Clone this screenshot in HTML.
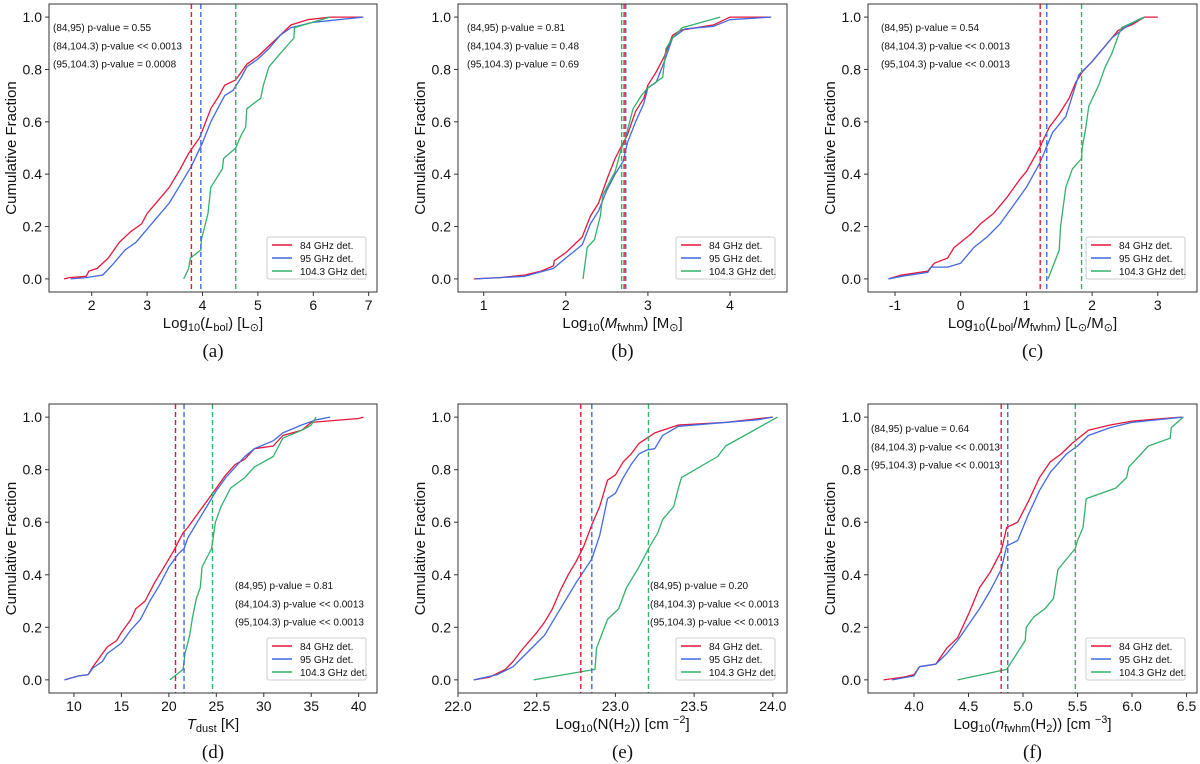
<!DOCTYPE html>
<html><head><meta charset="utf-8"><style>
body{margin:0;background:#fff;}
svg{display:block;font-family:"Liberation Sans","DejaVu Sans",sans-serif;}
</style></head><body>
<svg id="fig" width="1200" height="764" viewBox="0 0 1200 764" xmlns="http://www.w3.org/2000/svg"></svg>
<script>
// ---- data (x values, cumulative fraction) ----
const a84x=[1.5,1.6,1.9,1.95,2.1,2.3,2.5,2.7,2.9,3.0,3.2,3.4,3.6,3.75,3.95,4.15,4.3,4.4,4.6,4.8,5.0,5.2,5.4,5.6,5.9,6.3,6.9];
const a84y=[0,0.005,0.01,0.03,0.04,0.08,0.14,0.18,0.21,0.25,0.30,0.35,0.42,0.48,0.54,0.65,0.70,0.74,0.76,0.82,0.85,0.89,0.93,0.97,0.99,1.0,1.0];
const a95x=[1.62,1.9,2.2,2.4,2.6,2.8,3.0,3.2,3.4,3.6,3.8,4.0,4.15,4.3,4.4,4.55,4.7,4.8,5.0,5.2,5.4,5.6,6.0,6.9];
const a95y=[0,0.005,0.015,0.06,0.11,0.14,0.19,0.24,0.29,0.36,0.43,0.52,0.60,0.66,0.70,0.72,0.77,0.81,0.84,0.88,0.93,0.96,0.98,1.0];
const a104x=[3.66,3.75,3.78,3.97,3.98,4.1,4.15,4.36,4.38,4.6,4.7,4.78,4.8,5.05,5.1,5.2,5.4,5.65,5.66,6.3];
const a104y=[0,0.04,0.08,0.11,0.15,0.25,0.35,0.42,0.46,0.5,0.55,0.58,0.65,0.69,0.74,0.81,0.86,0.92,0.96,1.0];
const aMed=[3.8,3.97,4.6];

const b84x=[0.88,1.2,1.5,1.7,1.85,1.86,2.0,2.1,2.2,2.3,2.4,2.5,2.6,2.65,2.75,2.85,2.95,3.0,3.1,3.2,3.3,3.4,3.8,4.0,4.5];
const b84y=[0,0.005,0.015,0.03,0.05,0.07,0.10,0.13,0.16,0.24,0.29,0.38,0.46,0.49,0.55,0.64,0.69,0.74,0.79,0.85,0.93,0.95,0.97,1.0,1.0];
const b95x=[0.9,1.5,1.85,2.0,2.2,2.3,2.4,2.5,2.6,2.7,2.75,2.85,2.95,3.0,3.1,3.2,3.3,3.45,3.8,4.0,4.5];
const b95y=[0,0.01,0.04,0.08,0.13,0.21,0.26,0.34,0.40,0.45,0.52,0.60,0.67,0.73,0.75,0.83,0.92,0.955,0.965,0.99,1.0];
const b104x=[2.21,2.26,2.35,2.38,2.42,2.45,2.6,2.68,2.72,2.82,2.92,3.0,3.18,3.22,3.3,3.42,3.88];
const b104y=[0,0.12,0.15,0.19,0.24,0.32,0.41,0.50,0.53,0.65,0.70,0.73,0.77,0.88,0.92,0.96,1.0];
const bMed=[2.71,2.73,2.68];

const c84x=[-1.1,-0.9,-0.5,-0.4,-0.2,-0.1,0,0.15,0.3,0.5,0.7,0.9,1.0,1.2,1.35,1.5,1.65,1.75,1.85,2.0,2.2,2.4,2.6,2.8,3.0];
const c84y=[0,0.015,0.03,0.06,0.08,0.12,0.14,0.17,0.21,0.25,0.31,0.38,0.41,0.50,0.58,0.63,0.69,0.75,0.79,0.83,0.89,0.95,0.97,1.0,1.0];
const c95x=[-1.1,-0.9,-0.5,-0.45,-0.2,0,0.2,0.4,0.6,0.8,1.0,1.2,1.3,1.4,1.6,1.7,1.8,2.0,2.2,2.3,2.5,2.7,2.8];
const c95y=[0,0.01,0.025,0.045,0.045,0.06,0.12,0.16,0.21,0.28,0.35,0.44,0.50,0.56,0.62,0.70,0.78,0.83,0.89,0.92,0.96,0.99,1.0];
const c104x=[1.33,1.5,1.52,1.6,1.7,1.84,1.85,1.9,1.95,2.1,2.2,2.3,2.4,2.45,2.8];
const c104y=[0,0.11,0.2,0.35,0.42,0.46,0.5,0.57,0.66,0.74,0.81,0.86,0.93,0.96,1.0];
const cMed=[1.21,1.31,1.84];

const d84x=[9,10.5,11.5,12,13,13.5,14.5,15,16,16.5,17.5,18.5,19.5,20.5,21.5,22,23,24,25,26,27,28,29,31,32,34,35,40,40.5];
const d84y=[0,0.015,0.02,0.05,0.10,0.125,0.15,0.18,0.23,0.27,0.30,0.37,0.43,0.49,0.56,0.58,0.63,0.68,0.73,0.78,0.82,0.84,0.88,0.89,0.93,0.95,0.98,0.995,1.0];
const d95x=[9,10.5,11.5,12,13,13.5,15,16,17,18,19,20,21,21.6,22,23,24,25,26,27,28,29,31,32,34,35.5,37];
const d95y=[0,0.015,0.02,0.045,0.07,0.10,0.14,0.19,0.23,0.30,0.36,0.43,0.48,0.50,0.54,0.60,0.66,0.72,0.77,0.81,0.85,0.88,0.91,0.94,0.97,0.99,1.0];
const d104x=[20.1,21.5,21.7,22.2,22.5,22.9,23.3,23.5,24.5,24.9,25.5,26.5,28,29,31,32,34,35,35.5];
const d104y=[0,0.04,0.1,0.17,0.24,0.31,0.35,0.43,0.50,0.60,0.66,0.73,0.77,0.81,0.85,0.92,0.95,0.97,1.0];
const dMed=[20.7,21.6,24.6];

const e84x=[22.1,22.2,22.3,22.35,22.4,22.5,22.55,22.6,22.65,22.7,22.75,22.8,22.85,22.9,22.95,23.0,23.05,23.1,23.15,23.25,23.4,23.7,24.0];
const e84y=[0,0.01,0.04,0.07,0.11,0.18,0.22,0.27,0.34,0.40,0.45,0.51,0.59,0.66,0.76,0.78,0.83,0.86,0.90,0.94,0.97,0.98,1.0];
const e95x=[22.1,22.25,22.35,22.45,22.55,22.6,22.7,22.75,22.85,22.9,22.95,23.0,23.05,23.1,23.15,23.2,23.25,23.3,23.4,23.9,24.0];
const e95y=[0,0.02,0.05,0.11,0.17,0.22,0.32,0.37,0.46,0.55,0.69,0.71,0.77,0.82,0.86,0.875,0.88,0.93,0.965,0.99,1.0];
const e104x=[22.48,22.87,22.88,22.95,23.02,23.07,23.15,23.22,23.27,23.3,23.37,23.4,23.42,23.65,23.7,24.03];
const e104y=[0,0.04,0.12,0.23,0.27,0.35,0.43,0.51,0.56,0.61,0.66,0.73,0.77,0.85,0.89,1.0];
const eMed=[22.78,22.85,23.21];

const f84x=[3.72,3.9,4.0,4.05,4.2,4.3,4.4,4.5,4.55,4.6,4.7,4.8,4.85,4.95,5.05,5.15,5.25,5.35,5.45,5.6,5.8,6.0,6.45];
const f84y=[0,0.01,0.02,0.05,0.06,0.12,0.16,0.25,0.30,0.35,0.41,0.49,0.58,0.60,0.68,0.77,0.83,0.86,0.90,0.95,0.97,0.985,1.0];
const f95x=[3.8,4.0,4.05,4.2,4.3,4.4,4.5,4.6,4.7,4.8,4.85,4.95,5.05,5.15,5.25,5.4,5.5,5.6,5.8,6.0,6.47];
const f95y=[0,0.015,0.05,0.06,0.10,0.15,0.21,0.27,0.34,0.42,0.51,0.53,0.63,0.72,0.79,0.86,0.89,0.93,0.96,0.98,1.0];
const f104x=[4.4,4.85,5.02,5.03,5.1,5.2,5.28,5.32,5.48,5.5,5.55,5.58,5.85,5.95,5.97,6.15,6.35,6.36,6.47];
const f104y=[0,0.04,0.15,0.2,0.24,0.27,0.31,0.42,0.5,0.53,0.58,0.69,0.73,0.77,0.81,0.89,0.92,0.96,1.0];
const fMed=[4.8,4.86,5.48];

const yTicks=[0,0.2,0.4,0.6,0.8,1.0];
const aTicks=[2,3,4,5,6,7], bTicks=[1,2,3,4], cTicks=[-1,0,1,2,3];
const dTicks=[10,15,20,25,30,35,40], eTicks=[22.0,22.5,23.0,23.5,24.0], fTicks=[4.0,4.5,5.0,5.5,6.0,6.5];
const aNotes=["(84,95) p-value = 0.55","(84,104.3) p-value << 0.0013","(95,104.3) p-value = 0.0008"];
const bNotes=["(84,95) p-value = 0.81","(84,104.3) p-value = 0.48","(95,104.3) p-value = 0.69"];
const cNotes=["(84,95) p-value = 0.54","(84,104.3) p-value << 0.0013","(95,104.3) p-value << 0.0013"];
const dNotes=["(84,95) p-value = 0.81","(84,104.3) p-value << 0.0013","(95,104.3) p-value << 0.0013"];
const eNotes=["(84,95) p-value = 0.20","(84,104.3) p-value << 0.0013","(95,104.3) p-value << 0.0013"];
const fNotes=["(84,95) p-value = 0.64","(84,104.3) p-value << 0.0013","(95,104.3) p-value << 0.0013"];
const seriesNames=["84 GHz det.","95 GHz det.","104.3 GHz det."];

// ---- layout ----
const COLORS=["#e4173b","#4169e1","#33b06a"];
const NS="http://www.w3.org/2000/svg";
const svg=document.getElementById('fig');
function el(tag,attrs,parent){const e=document.createElementNS(NS,tag);for(const k in attrs)e.setAttribute(k,attrs[k]);(parent||svg).appendChild(e);return e;}

const panels=[
 {id:'a',L:49,R:377,T:4,B:292,xmin:1.229,xmax:7.15,ticks:aTicks,fmt:0,s:[[a84x,a84y],[a95x,a95y],[a104x,a104y]],med:aMed,notes:aNotes,nx:53,ny:27,lx:267,ly:237,
  xlabel:[["Log",0],["10",1],["(",0],["L",2],["bol",1],[") [L",0],["⊙",1],["]",0]]},
 {id:'b',L:458,R:787,T:4,B:292,xmin:0.687,xmax:4.694,ticks:bTicks,fmt:0,s:[[b84x,b84y],[b95x,b95y],[b104x,b104y]],med:bMed,notes:bNotes,nx:467,ny:27,lx:676,ly:237,
  xlabel:[["Log",0],["10",1],["(",0],["M",2],["fwhm",1],[") [M",0],["⊙",1],["]",0]]},
 {id:'c',L:868,R:1197,T:4,B:292,xmin:-1.411,xmax:3.597,ticks:cTicks,fmt:0,s:[[c84x,c84y],[c95x,c95y],[c104x,c104y]],med:cMed,notes:cNotes,nx:881,ny:27,lx:1086,ly:237,
  xlabel:[["Log",0],["10",1],["(",0],["L",2],["bol",1],["/",0],["M",2],["fwhm",1],[") [L",0],["⊙",1],["/M",0],["⊙",1],["]",0]]},
 {id:'d',L:49,R:377,T:404,B:693,xmin:7.37,xmax:41.93,ticks:dTicks,fmt:0,s:[[d84x,d84y],[d95x,d95y],[d104x,d104y]],med:dMed,notes:dNotes,nx:235,ny:585,lx:267,ly:638,
  xlabel:[["T",2],["dust",1],[" [K]",0]]},
 {id:'e',L:458,R:787,T:404,B:693,xmin:22.0,xmax:24.09,ticks:eTicks,fmt:1,s:[[e84x,e84y],[e95x,e95y],[e104x,e104y]],med:eMed,notes:eNotes,nx:650,ny:585,lx:676,ly:638,
  xlabel:[["Log",0],["10",1],["(N(H",0],["2",1],[")) [cm ",0],["−2",3],["]",0]]},
 {id:'f',L:868,R:1197,T:404,B:693,xmin:3.578,xmax:6.596,ticks:fTicks,fmt:1,s:[[f84x,f84y],[f95x,f95y],[f104x,f104y]],med:fMed,notes:fNotes,nx:871,ny:428,lx:1086,ly:638,
  xlabel:[["Log",0],["10",1],["(",0],["n",2],["fwhm",1],["(H",0],["2",1],[")) [cm ",0],["−3",3],["]",0]]}
];

panels.forEach(p=>{
  const g=el('g',{});
  
  
  const X=v=>p.L+(v-p.xmin)/(p.xmax-p.xmin)*(p.R-p.L);
  const Y=v=>p.B-(v+0.05)/1.1*(p.B-p.T);
  p.s.forEach((s,i)=>{
    const pts=s[0].map((x,k)=>X(x).toFixed(1)+','+Y(s[1][k]).toFixed(1)).join(' ');
    const pl=el('polyline',{points:pts,fill:'none',stroke:COLORS[i],'stroke-width':1.3,'stroke-linejoin':'round'},g);
    
    
  });
  p.med.forEach((m,i)=>{
    const ln=el('line',{x1:X(m),x2:X(m),y1:p.T,y2:p.B,stroke:COLORS[i],'stroke-width':1.4,'stroke-dasharray':'5,3'},g);
    
    
  });
  const fr=el('rect',{x:p.L,y:p.T,width:p.R-p.L,height:p.B-p.T,fill:'none',stroke:'#333','stroke-width':1},g);
  
  
  yTicks.forEach(t=>{
    el('line',{x1:p.L-4,x2:p.L,y1:Y(t),y2:Y(t),stroke:'#333'},g);
    const tx=el('text',{x:p.L-7,y:Y(t)+5,'text-anchor':'end','font-size':14,fill:'#111'},g);
    tx.textContent=t.toFixed(1);
    
    
  });
  p.ticks.forEach(t=>{
    el('line',{x1:X(t),x2:X(t),y1:p.B,y2:p.B+4,stroke:'#333'},g);
    const tx=el('text',{x:X(t),y:p.B+18,'text-anchor':'middle','font-size':14,fill:'#111'},g);
    tx.textContent=t.toFixed(p.fmt);
    
    
  });
  const cy=(p.T+p.B)/2, lxp=p.L-33;
  const yl=el('text',{x:lxp,y:cy,'text-anchor':'middle','font-size':15,fill:'#111',transform:`rotate(-90 ${lxp} ${cy})`},g);
  yl.textContent='Cumulative Fraction';
  
  
  const xl=el('text',{x:(p.L+p.R)/2,y:p.B+36,'text-anchor':'middle','font-size':15,fill:'#111'},g);
  
  
  let prevOff=0;
  p.xlabel.forEach(([t,k])=>{
    const ts=el('tspan',{},xl);ts.textContent=t;
    const off=k===1?3:k===3?-6:0;
    if(k===1||k===3)ts.setAttribute('font-size',11);
    if(k===2)ts.setAttribute('font-style','italic');
    if(off-prevOff!==0)ts.setAttribute('dy',off-prevOff);
    prevOff=off;
  });
  const cap=el('text',{x:(p.L+p.R)/2,y:p.B+65,'text-anchor':'middle','font-size':19,'font-family':'"Liberation Serif",serif',fill:'#111'},g);
  cap.textContent='('+p.id+')';
  
  
  p.notes.forEach((n,i)=>{
    const t=el('text',{x:p.nx,y:p.ny+i*18.3+4,'font-size':10,fill:'#111'},g);
    t.textContent=n;
    
    
  });
  const lg=el('g',{},g);
  
  
  el('rect',{x:p.lx,y:p.ly,width:99,height:42,fill:'#fff',stroke:'#ccc','stroke-width':1,rx:2},lg);
  seriesNames.forEach((n,i)=>{
    const yy=p.ly+8+i*13;
    el('line',{x1:p.lx+5,x2:p.lx+25,y1:yy,y2:yy,stroke:COLORS[i],'stroke-width':1.5},lg);
    const t=el('text',{x:p.lx+33,y:yy+4,'font-size':10,fill:'#111'},lg);
    t.textContent=n;
    
    
  });
});
</script>
</body></html>
